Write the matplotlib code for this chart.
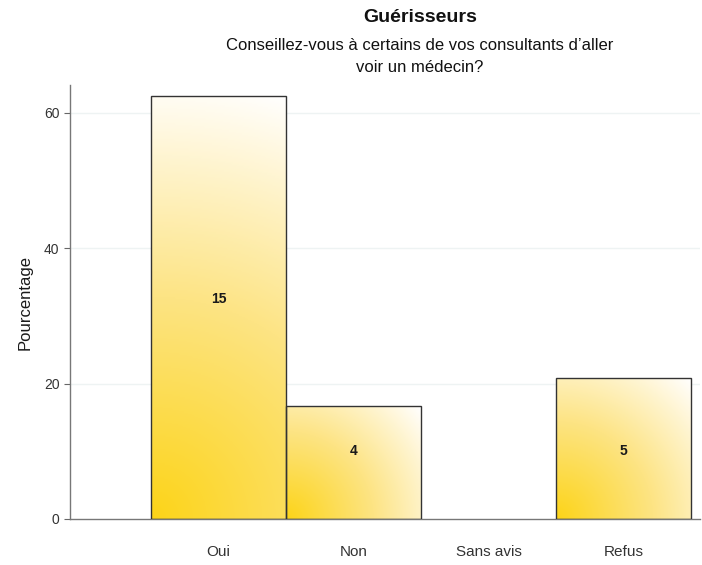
import numpy as np
import matplotlib
matplotlib.use("Agg")
import matplotlib.pyplot as plt
from matplotlib.colors import LinearSegmentedColormap

categories = ["Oui", "Non", "Sans avis", "Refus"]
counts = [15, 4, 0, 5]
percent = [62.5, 16.67, 0.0, 20.83]
label_y = [32.5, 10.0, 10.0, 10.0]
yticks = [0, 20, 40, 60]

plt.rcParams['font.family'] = ['Liberation Sans', 'DejaVu Sans']

fig = plt.figure(figsize=(7.02, 5.65), dpi=100)
ax = fig.add_axes([70/702, 46/565, 630/702, 434/565])

x = np.arange(1, len(categories) + 1)
cmap = LinearSegmentedColormap.from_list(
    "g", [(0.0, "#FCD418"), (0.5, "#FDE484"), (0.82, "#FFF5D2"), (1.0, "#FFFFFF")])

ax.set_xlim(-0.1, 4.567)
ax.set_ylim(0, 64.1)

# pixel scale per data unit (for a gradient defined in screen space)
p0 = ax.transData.transform((0, 0))
p1 = ax.transData.transform((1, 1))
sx, sy = p1[0] - p0[0], p1[1] - p0[1]

for xi, p, c, ly in zip(x, percent, counts, label_y):
    if p <= 0:
        continue
    bars = ax.bar(xi, p, width=1.0, facecolor="none", edgecolor="#333333",
                  linewidth=1.0, zorder=3)
    rect = bars[0]
    wpx, hpx = 1.0 * sx, p * sy
    n = 300
    U, V = np.meshgrid(np.linspace(0, wpx, n), np.linspace(0, hpx, n))
    T = np.clip(np.sqrt(U**2 + V**2) / np.hypot(wpx, hpx), 0, 1)
    im = ax.imshow(T, extent=(xi - 0.5, xi + 0.5, 0, p), origin="lower",
                   cmap=cmap, vmin=0, vmax=1, aspect="auto", zorder=2,
                   interpolation="bilinear")
    im.set_clip_path(rect)
    ax.text(xi, ly, str(c), ha="center", va="center", fontsize=10,
            fontweight="bold", color="#1a1a1a", zorder=4)

ax.set_xlim(-0.1, 4.567)
ax.set_ylim(0, 64.1)

ax.set_xticks(x)
ax.set_xticklabels(categories)
ax.set_yticks(yticks)
ax.tick_params(axis="x", length=0, pad=19, labelsize=11, labelcolor="#333333")
ax.tick_params(axis="y", length=4, color="#666666", labelsize=10, labelcolor="#333333")

for yv in yticks[1:]:
    ax.axhline(yv, color="#EEF3F3", linewidth=1.0, zorder=1)

for s in ["top", "right"]:
    ax.spines[s].set_visible(False)
for s in ["left", "bottom"]:
    ax.spines[s].set_color("#777777")
    ax.spines[s].set_linewidth(1.0)

ax.set_ylabel("Pourcentage", fontsize=12, color="#1a1a1a", labelpad=8)

fig.text(420/702, 1 - 18/565, "Guérisseurs", ha="center", va="center",
         fontsize=14, fontweight="bold", color="#111111")
fig.text(420/702, 1 - 45/565, "Conseillez-vous à certains de vos consultants d’aller",
         ha="center", va="center", fontsize=12, color="#111111")
fig.text(420/702, 1 - 67/565, "voir un médecin?",
         ha="center", va="center", fontsize=12, color="#111111")

fig.savefig("out.png", dpi=100)
